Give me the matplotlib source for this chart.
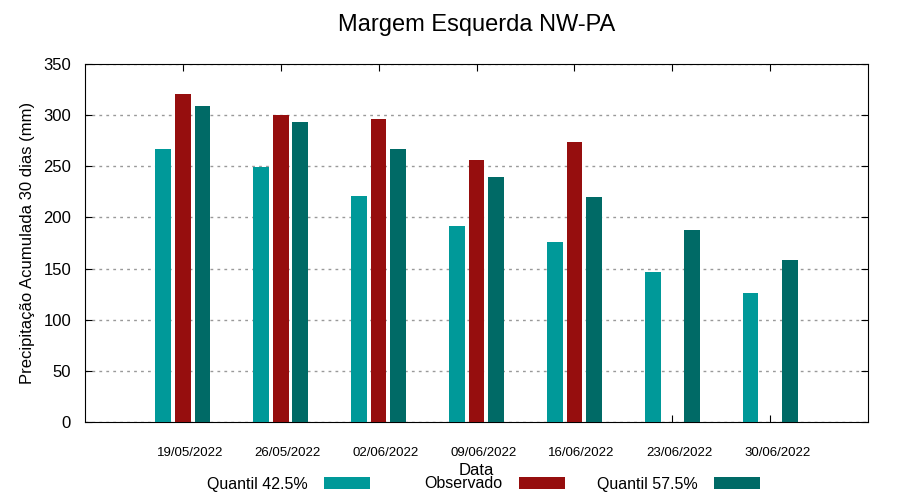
import numpy as np
import matplotlib.pyplot as plt
import matplotlib.transforms as mtransforms
from matplotlib.ticker import MultipleLocator

plt.rcParams['font.family'] = ['Liberation Sans', 'DejaVu Sans']

datas = ['19/05/2022', '26/05/2022', '02/06/2022', '09/06/2022',
         '16/06/2022', '23/06/2022', '30/06/2022']
quantil_425 = [267, 249, 221, 192, 176, 147, 126]
observado = [320.5, 300, 296, 256, 274, np.nan, np.nan]
quantil_575 = [309, 293, 267, 240, 220, 188, 158]

cores = ['#009999', '#960e0e', '#006a66']
nomes = ['Quantil 42.5%', 'Observado', 'Quantil 57.5%']

fig = plt.figure(figsize=(9, 5), dpi=100)
ax = fig.add_axes([85/900, 78/500, 783/900, 358/500])

x = np.arange(len(datas))
w = 0.16
barras = []
for i, (serie, cor) in enumerate(zip([quantil_425, observado, quantil_575], cores)):
    b = ax.bar(x + (i - 1) * 0.2, serie, w, color=cor, zorder=3)
    barras.append(b)

ax.set_xlim(-1, 7)
ax.set_ylim(0, 350)
ax.yaxis.set_major_locator(MultipleLocator(50))
ax.set_xticks(x)
ax.set_xticklabels(datas, fontsize=9.5)
ax.tick_params(axis='x', direction='in', top=True, length=5, pad=18)
ax.tick_params(axis='y', direction='in', right=True, length=5, labelsize=12, pad=10)
# rotulos do eixo x um pouco deslocados para a direita (como no gnuplot)
desloc = mtransforms.ScaledTranslation(7/100, 0, fig.dpi_scale_trans)
for lab in ax.get_xticklabels():
    lab.set_transform(lab.get_transform() + desloc)
ax.grid(axis='y', linestyle=(0, (2, 3)), color='#999999', linewidth=1, zorder=0)

ax.set_title('Margem Esquerda NW-PA', fontsize=17, pad=24)
ax.set_ylabel('Precipitação Acumulada 30 dias (mm)', fontsize=12, labelpad=6)
ax.set_xlabel('Data', fontsize=12, labelpad=3)

# legenda estilo gnuplot: texto alinhado a direita, amostra depois
fim_amostra = [370, 565, 760]
for b, nome, xr in zip(barras, nomes, fim_amostra):
    fig.legend([b], [nome], loc='center right', bbox_to_anchor=(xr/900, 16/500),
               frameon=False, markerfirst=False, fontsize=11.5, handlelength=2.9,
               handleheight=0.7, handletextpad=1.0, borderpad=0, borderaxespad=0)

fig.savefig('out.png', dpi=100)
